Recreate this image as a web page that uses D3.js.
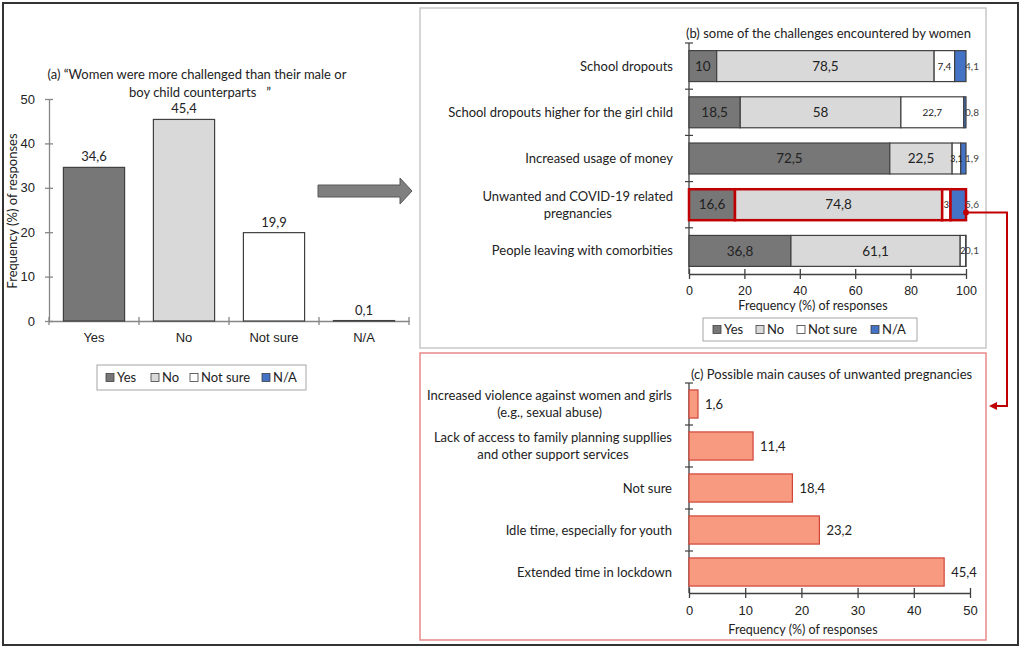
<!DOCTYPE html>
<html lang="en">
<head>
<meta charset="UTF-8">
<title>Challenges encountered by women</title>
<script src="https://d3js.org/d3.v7.min.js"></script>
<style>
  body { margin: 0; background: #fff; }
  svg { font-family: Lato, "Liberation Sans", sans-serif; }
</style>
</head>
<body>
<div id="chart"></div>
<script>
// (a) women more challenged?
const aCategories = ["Yes", "No", "Not sure", "N/A"];
const aValues = [34.6, 45.4, 19.9, 0.1];
const aTicks = [0, 10, 20, 30, 40, 50];

// (b) some of the challenges (stacked %)
const bCategories = [
  "School dropouts",
  "School dropouts higher for the girl child",
  "Increased usage of money",
  "Unwanted and COVID-19 related\npregnancies",
  "People leaving with comorbities"
];
const bYes = [10, 18.5, 72.5, 16.6, 36.8];
const bNo = [78.5, 58, 22.5, 74.8, 61.1];
const bNotSure = [7.4, 22.7, 3.1, 3, 2];
const bNA = [4.1, 0.8, 1.9, 5.6, 0.1];
const bTicks = [0, 20, 40, 60, 80, 100];
const bHighlight = "Unwanted and COVID-19 related\npregnancies";

// (c) possible main causes of unwanted pregnancies
const cCategories = [
  "Increased violence against women and girls\n(e.g., sexual abuse)",
  "Lack of access to family planning suppllies\nand other support services",
  "Not sure",
  "Idle time, especially for youth",
  "Extended time in lockdown"
];
const cValues = [1.6, 11.4, 18.4, 23.2, 45.4];
const cTicks = [0, 10, 20, 30, 40, 50];

const keys = ["Yes", "No", "Not sure", "N/A"];
const colors = { "Yes": "#777777", "No": "#d9d9d9", "Not sure": "#ffffff", "N/A": "#4472c4" };
const fmt = v => String(v).replace(".", ",");

const svg = d3.select("#chart").append("svg")
  .attr("width", 1022).attr("height", 649);

// frames
svg.append("rect").attr("x", 3).attr("y", 3).attr("width", 1015).attr("height", 642)
  .attr("fill", "none").attr("stroke", "#333").attr("stroke-width", 2);
svg.append("rect").attr("x", 420).attr("y", 8).attr("width", 566).attr("height", 340)
  .attr("fill", "none").attr("stroke", "#c8c8c8").attr("stroke-width", 1.5);
svg.append("rect").attr("x", 420).attr("y", 353).attr("width", 566).attr("height", 287)
  .attr("fill", "none").attr("stroke", "#e8898a").attr("stroke-width", 1.5);

// helper: multi-line category label, block right aligned, lines centred
function catLabel(g, text, right, cy, size) {
  const lines = text.split("\n");
  const t = g.append("text").attr("font-size", size).attr("fill", "#222");
  const spans = lines.map(l => t.append("tspan").text(l));
  const w = d3.max(spans, s => s.node().getComputedTextLength());
  const lh = 17;
  spans.forEach((s, i) => s.attr("x", right - w / 2)
    .attr("y", cy + (i - (lines.length - 1) / 2) * lh).attr("dy", "0.35em"));
  t.attr("text-anchor", "middle");
}

function legend(g, x0, y0, w, h, xs) {
  g.append("rect").attr("x", x0).attr("y", y0).attr("width", w).attr("height", h)
    .attr("fill", "#fff").attr("stroke", "#a6a6a6");
  keys.forEach((k, i) => {
    g.append("rect").attr("x", xs[i]).attr("y", y0 + h / 2 - 4).attr("width", 8).attr("height", 8)
      .attr("fill", colors[k]).attr("stroke", "#404040").attr("stroke-width", 0.8);
    g.append("text").attr("x", xs[i] + 11).attr("y", y0 + h / 2).attr("dy", "0.35em")
      .attr("font-size", 13).attr("fill", "#222").text(k);
  });
}

// ---------- panel (a)
{
  const g = svg.append("g");
  const x = d3.scaleBand().domain(aCategories).range([49, 409]).paddingInner(0.32).paddingOuter(0.16);
  const y = d3.scaleLinear().domain([0, 50]).range([321, 99]);

  g.append("text").attr("x", 197).attr("y", 74).attr("dy", "0.35em").attr("text-anchor", "middle")
    .attr("font-size", 13).attr("fill", "#222")
    .text("(a) \u201CWomen were more challenged than their male or");
  g.append("text").attr("x", 200).attr("y", 92).attr("dy", "0.35em").attr("text-anchor", "middle")
    .attr("font-size", 13).attr("fill", "#222")
    .text("boy child counterparts\u00A0\u00A0\u00A0\u201D");

  const ya = g.append("g").attr("transform", "translate(49,0)")
    .call(d3.axisLeft(y).tickValues(aTicks).tickSize(4).tickSizeOuter(0).tickPadding(10));
  ya.selectAll(".tick line").attr("x1", 4);
  ya.selectAll("text").attr("font-size", 13).attr("font-family", null).attr("fill", "#222");
  ya.selectAll("path, line").attr("stroke", "#868686").attr("stroke-width", 1.3);

  const xa = g.append("g").attr("transform", "translate(0,321)")
    .call(d3.axisBottom(x).tickSize(0).tickSizeOuter(0).tickPadding(12));
  xa.selectAll("text").attr("font-size", 13).attr("font-family", null).attr("fill", "#222");
  xa.select("path").attr("stroke", "#868686").attr("stroke-width", 1.3);
  const bounds = aCategories.map(c => x(c) - (x.step() - x.bandwidth()) / 2);
  bounds.push(x.range()[1]);
  g.selectAll(".atick").data(bounds).enter().append("line")
    .attr("x1", d => d).attr("x2", d => d).attr("y1", 317).attr("y2", 325)
    .attr("stroke", "#868686").attr("stroke-width", 1.3);

  g.selectAll(".abar").data(aCategories).enter().append("rect")
    .attr("x", d => x(d)).attr("width", x.bandwidth())
    .attr("y", (d, i) => y(aValues[i])).attr("height", (d, i) => y(0) - y(aValues[i]))
    .attr("fill", d => colors[d]).attr("stroke", "#404040").attr("stroke-width", 1.2);

  g.selectAll(".alab").data(aCategories).enter().append("text")
    .attr("x", d => x(d) + x.bandwidth() / 2).attr("y", (d, i) => y(aValues[i]) - 6)
    .attr("text-anchor", "middle").attr("font-size", 13).attr("fill", "#222")
    .text((d, i) => fmt(aValues[i]));

  g.append("text").attr("transform", "translate(12,211) rotate(-90)").attr("text-anchor", "middle")
    .attr("font-size", 13).attr("fill", "#222").attr("dy", "0.35em")
    .text("Frequency (%) of responses");

  legend(g, 97, 365, 209, 25, [106, 151, 190, 262]);

  // grey arrow towards (b)
  g.append("path")
    .attr("d", "M318,185 H400 V178 L412,191 L400,204 V197 H318 Z")
    .attr("fill", "#7f7f7f").attr("stroke", "#595959").attr("stroke-width", 1);
}

// ---------- panel (b)
{
  const g = svg.append("g");
  const table = bCategories.map((c, i) => ({ cat: c, "Yes": bYes[i], "No": bNo[i], "Not sure": bNotSure[i], "N/A": bNA[i] }));
  const series = d3.stack().keys(keys)(table);
  const x = d3.scaleLinear().domain([0, 100]).range([689, 966]);
  const y = d3.scaleBand().domain(bCategories).range([43, 274]).paddingInner(0.33).paddingOuter(0.165);

  g.append("text").attr("x", 686).attr("y", 33).attr("dy", "0.35em")
    .attr("font-size", 13).attr("fill", "#222").text("(b) some of the challenges encountered by women");

  // y axis line + boundary ticks
  g.append("line").attr("x1", 689).attr("x2", 689).attr("y1", 43).attr("y2", 274)
    .attr("stroke", "#404040").attr("stroke-width", 1.3);
  const yb = bCategories.map(c => y(c) - (y.step() - y.bandwidth()) / 2);
  g.selectAll(".btick").data(yb).enter().append("line")
    .attr("x1", 685).attr("x2", 693).attr("y1", d => d).attr("y2", d => d)
    .attr("stroke", "#404040").attr("stroke-width", 1.2);

  bCategories.forEach(c => catLabel(g, c, 673, y(c) + y.bandwidth() / 2, 13));

  const segs = [];
  series.forEach(s => s.forEach(d => segs.push({ key: s.key, x0: d[0], x1: d[1], cat: d.data.cat, v: d.data[s.key] })));
  const ordered = segs.filter(s => s.cat !== bHighlight).concat(segs.filter(s => s.cat === bHighlight));

  g.selectAll(".bbar").data(ordered).enter().append("rect")
    .attr("x", d => x(d.x0)).attr("width", d => x(d.x1) - x(d.x0))
    .attr("y", d => y(d.cat)).attr("height", y.bandwidth())
    .attr("fill", d => colors[d.key])
    .attr("stroke", d => d.cat === bHighlight ? "#c00000" : "#404040")
    .attr("stroke-width", d => d.cat === bHighlight ? 2.5 : 1.2);

  g.selectAll(".blab").data(segs).enter().append("text")
    .attr("x", d => d.key === "N/A" ? x(100) + 6 : x((d.x0 + d.x1) / 2))
    .attr("y", d => y(d.cat) + y.bandwidth() / 2).attr("dy", "0.35em")
    .attr("text-anchor", "middle")
    .attr("font-size", d => (d.key === "Yes" || d.key === "No") ? 13.5 : (d.v < 5 && d.key === "Not sure" ? 9 : 10))
    .attr("fill", d => d.key === "N/A" ? "#444" : "#222")
    .text(d => fmt(d.v));

  const xa = g.append("g").attr("transform", "translate(0,274)")
    .call(d3.axisBottom(x).tickValues(bTicks).tickSize(5).tickSizeOuter(0).tickPadding(7));
  xa.selectAll(".tick line").attr("y1", -5);
  xa.selectAll("path, line").attr("stroke", "#404040").attr("stroke-width", 1.3);
  xa.selectAll("text").attr("font-size", 12.5).attr("font-family", null).attr("fill", "#222");

  g.append("text").attr("x", 813).attr("y", 306).attr("dy", "0.35em").attr("text-anchor", "middle")
    .attr("font-size", 12.5).attr("fill", "#222").text("Frequency (%) of responses");

  legend(g, 703, 318, 214, 23, [713, 756, 797, 871]);

  // red connector from highlighted row to panel (c)
  const cy = y(bHighlight) + y.bandwidth() * 0.75;
  g.append("path").attr("d", `M${x(100)},${cy} H1007 V406 H996`)
    .attr("fill", "none").attr("stroke", "#c00000").attr("stroke-width", 2);
  g.append("circle").attr("cx", x(100)).attr("cy", cy).attr("r", 3).attr("fill", "#c00000");
  g.append("path").attr("d", "M989,406 L997,402 L997,410 Z").attr("fill", "#c00000");
}

// ---------- panel (c)
{
  const g = svg.append("g");
  const x = d3.scaleLinear().domain([0, 50]).range([689, 970]);
  const y = d3.scaleBand().domain(cCategories).range([383, 593]).paddingInner(0.33).paddingOuter(0.165);

  g.append("text").attr("x", 691).attr("y", 374).attr("dy", "0.35em")
    .attr("font-size", 13).attr("fill", "#222").text("(c) Possible main causes of unwanted pregnancies");

  g.append("line").attr("x1", 689).attr("x2", 689).attr("y1", 383).attr("y2", 593)
    .attr("stroke", "#404040").attr("stroke-width", 1.3);
  const yb = cCategories.map(c => y(c) - (y.step() - y.bandwidth()) / 2);
  g.selectAll(".ctick").data(yb).enter().append("line")
    .attr("x1", 685).attr("x2", 693).attr("y1", d => d).attr("y2", d => d)
    .attr("stroke", "#404040").attr("stroke-width", 1.2);

  cCategories.forEach(c => catLabel(g, c, 672, y(c) + y.bandwidth() / 2, 13));

  g.selectAll(".cbar").data(cCategories).enter().append("rect")
    .attr("x", x(0)).attr("width", (d, i) => x(cValues[i]) - x(0))
    .attr("y", d => y(d)).attr("height", y.bandwidth())
    .attr("fill", "#f79a80").attr("stroke", "#d0453a").attr("stroke-width", 1.2);

  g.selectAll(".clab").data(cCategories).enter().append("text")
    .attr("x", (d, i) => x(cValues[i]) + 7).attr("y", d => y(d) + y.bandwidth() / 2).attr("dy", "0.35em")
    .attr("font-size", 13).attr("fill", "#222").text((d, i) => fmt(cValues[i]));

  const xa = g.append("g").attr("transform", "translate(0,593)")
    .call(d3.axisBottom(x).tickValues(cTicks).tickSize(5).tickSizeOuter(0).tickPadding(8));
  xa.selectAll(".tick line").attr("y1", -5);
  xa.selectAll("path, line").attr("stroke", "#404040").attr("stroke-width", 1.3);
  xa.selectAll("text").attr("font-size", 13).attr("font-family", null).attr("fill", "#222");

  g.append("text").attr("x", 803).attr("y", 630).attr("dy", "0.35em").attr("text-anchor", "middle")
    .attr("font-size", 12.5).attr("fill", "#222").text("Frequency (%) of responses");
}
</script>
</body>
</html>
